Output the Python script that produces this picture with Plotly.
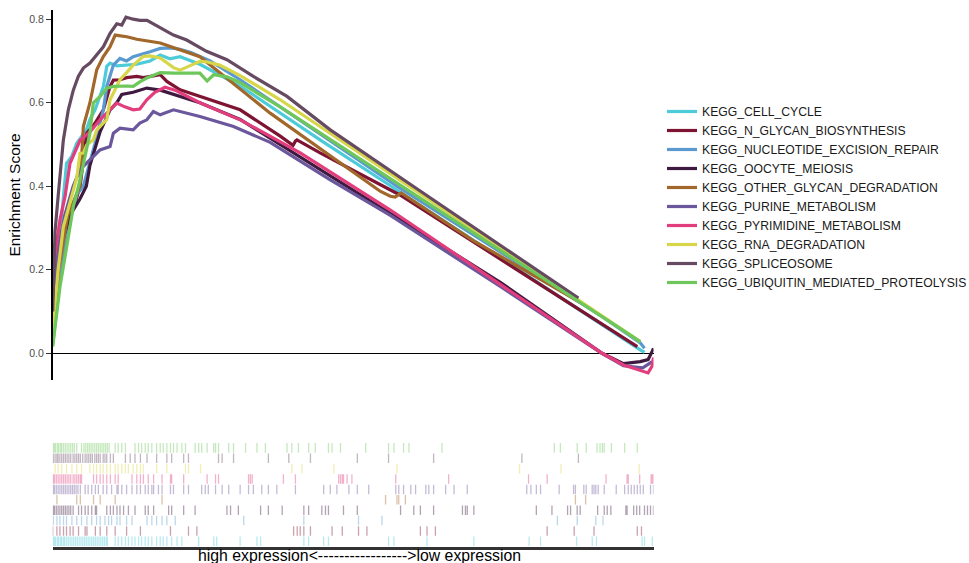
import plotly.graph_objects as go

# ---------------- data ----------------
set_names = ["KEGG_CELL_CYCLE", "KEGG_N_GLYCAN_BIOSYNTHESIS", "KEGG_NUCLEOTIDE_EXCISION_REPAIR",
             "KEGG_OOCYTE_MEIOSIS", "KEGG_OTHER_GLYCAN_DEGRADATION", "KEGG_PURINE_METABOLISM",
             "KEGG_PYRIMIDINE_METABOLISM", "KEGG_RNA_DEGRADATION", "KEGG_SPLICEOSOME",
             "KEGG_UBIQUITIN_MEDIATED_PROTEOLYSIS"]
set_colors = ["#4ECBD9", "#7D1432", "#5A9AD0", "#3F1A40", "#A2672B",
              "#6B579C", "#E23D7C", "#D7D64B", "#664A62", "#6DC75A"]

# running enrichment score curves: gene-rank position (0-1000) and ES
cell_cycle_rank = [0, 5, 15, 23, 31.6, 40, 56, 62, 70.5, 79, 84.3, 90, 95.5, 106.6, 123, 140, 162, 179, 195, 212, 245, 312, 445, 573, 978, 985]
cell_cycle_es = [0.05, 0.2, 0.33, 0.455, 0.471, 0.503, 0.535, 0.56, 0.583, 0.615, 0.639, 0.687, 0.695, 0.688, 0.69, 0.692, 0.70, 0.714, 0.705, 0.71, 0.692, 0.64, 0.511, 0.391, 0.008, 0.002]

n_glycan_rank = [0, 10, 20, 35, 45.5, 56.6, 70, 84.3, 95.5, 101, 112, 123, 140, 151, 179, 190, 212, 245, 312, 378.7, 400, 404, 406.5, 445, 578, 973]
n_glycan_es = [0.15, 0.25, 0.3, 0.35, 0.399, 0.527, 0.55, 0.583, 0.639, 0.654, 0.655, 0.66, 0.663, 0.66, 0.667, 0.651, 0.631, 0.615, 0.583, 0.52, 0.498, 0.508, 0.511, 0.48, 0.379, 0.016]

nucleotide_rank = [0, 10, 25, 40, 51, 59, 70, 84.3, 90, 101, 112, 123, 134, 162, 179, 195, 212, 230, 262, 312, 445, 573, 914, 978, 985]
nucleotide_es = [0.02, 0.15, 0.3, 0.38, 0.40, 0.44, 0.50, 0.583, 0.639, 0.69, 0.706, 0.70, 0.71, 0.722, 0.73, 0.731, 0.728, 0.72, 0.70, 0.655, 0.525, 0.40, 0.088, 0.025, 0.012]

oocyte_rank = [0, 12.2, 28.8, 45.5, 56, 62, 78.8, 95.5, 106.6, 115, 134, 156.6, 179, 212, 245, 312, 412, 562, 745, 914.5, 950, 978, 991, 998, 1000]
oocyte_es = [0.12, 0.25, 0.33, 0.37, 0.40, 0.45, 0.53, 0.583, 0.60, 0.62, 0.625, 0.635, 0.63, 0.615, 0.60, 0.56, 0.47, 0.335, 0.17, 0.0, -0.025, -0.02, -0.015, 0.005, 0.012]

other_glycan_rank = [0, 10, 25, 40, 45.5, 51, 62, 73.3, 84, 95.5, 104, 123.3, 140, 179, 245, 362, 445, 545, 562, 570, 580, 700, 883]
other_glycan_es = [0.05, 0.2, 0.33, 0.38, 0.40, 0.543, 0.60, 0.679, 0.71, 0.734, 0.762, 0.758, 0.752, 0.743, 0.71, 0.575, 0.491, 0.388, 0.376, 0.374, 0.384, 0.27, 0.118]

purine_rank = [0, 9, 20, 34, 45.5, 67.6, 78.8, 95.5, 101, 112, 134, 145, 156.6, 167.6, 179, 201, 223, 245, 301, 362, 462, 562, 745, 914, 950, 982, 998]
purine_es = [0.08, 0.25, 0.33, 0.40, 0.44, 0.471, 0.487, 0.495, 0.527, 0.539, 0.535, 0.551, 0.559, 0.579, 0.571, 0.583, 0.575, 0.567, 0.543, 0.505, 0.415, 0.33, 0.16, 0.0, -0.03, -0.035, -0.02]

pyrimidine_rank = [0, 3.8, 12.2, 20.5, 28.8, 45.5, 62, 78.8, 95.5, 106.6, 120, 134, 145, 156.6, 170, 187, 203.7, 245, 312, 362, 412, 562, 745, 914.5, 950, 978, 991, 998, 1000]
pyrimidine_es = [0.2, 0.24, 0.32, 0.375, 0.455, 0.51, 0.53, 0.559, 0.583, 0.599, 0.59, 0.583, 0.585, 0.607, 0.625, 0.637, 0.63, 0.60, 0.559, 0.519, 0.48, 0.343, 0.165, 0.0, -0.028, -0.04, -0.047, -0.03, -0.01]

rna_rank = [0, 9, 17.7, 28.8, 40, 45.5, 51, 56.6, 67.6, 73.3, 78.8, 84.3, 90, 95.5, 112, 123, 134, 151, 162, 179, 201, 212, 230, 245, 256, 278, 312, 378.7, 978]
rna_es = [0.05, 0.2, 0.303, 0.359, 0.42, 0.479, 0.479, 0.499, 0.511, 0.535, 0.543, 0.551, 0.56, 0.607, 0.655, 0.672, 0.69, 0.711, 0.712, 0.707, 0.684, 0.678, 0.69, 0.699, 0.698, 0.69, 0.665, 0.607, 0.028]

spliceosome_rank = [0, 3.8, 9.3, 17.7, 26, 34.3, 42.6, 51, 62, 73.3, 84.3, 95.5, 106.6, 115, 122, 134, 145, 157, 173, 201, 223, 256, 290, 334, 390, 462, 600, 760, 875]
spliceosome_es = [0.10, 0.29, 0.38, 0.51, 0.583, 0.63, 0.663, 0.683, 0.695, 0.714, 0.734, 0.766, 0.789, 0.786, 0.805, 0.80, 0.797, 0.797, 0.784, 0.762, 0.75, 0.723, 0.703, 0.663, 0.615, 0.535, 0.40, 0.244, 0.132]

ubiquitin_rank = [0, 12.2, 23.3, 34.3, 45.5, 51, 62, 67.6, 79, 90, 101, 123, 134, 145, 156.6, 179, 201, 245, 257, 268, 290, 312, 378.7, 978]
ubiquitin_es = [0.016, 0.16, 0.255, 0.351, 0.415, 0.455, 0.527, 0.6, 0.615, 0.635, 0.639, 0.64, 0.639, 0.65, 0.659, 0.672, 0.671, 0.671, 0.652, 0.667, 0.662, 0.648, 0.59, 0.028]

# gene-set member positions in the ranked list (rug)
cell_cycle_hits = [1, 3, 5, 8, 10, 13, 15, 18, 20, 23, 26, 29, 32, 35, 38, 41, 44, 47, 50, 53, 56, 59, 62, 65, 68, 71, 74, 77, 80, 83, 86, 89, 91,
                   104, 109, 115, 121, 126, 132, 137, 143, 148, 154, 159, 165, 173, 179, 184, 190, 198, 207, 215, 243, 268, 273, 312, 340, 346,
                   418, 426, 451, 459, 559, 568, 623, 701, 793, 812, 872, 898, 905, 981, 985, 998]
n_glycan_hits = [0, 7, 12, 18, 23, 29, 34, 43, 54, 57, 71, 79, 90, 104, 123, 146, 196, 226, 240, 401, 407, 412, 418, 429, 465, 482, 509,
                 523, 612, 623, 637, 823, 868, 901, 973, 980]
nucleotide_hits = [1, 7, 12, 18, 23, 32, 40, 48, 57, 65, 73, 79, 87, 93, 98, 107, 112, 123, 132, 157, 165, 173, 182, 190, 204, 318, 418,
                   509, 548, 840, 873, 904, 916]
oocyte_hits = [1, 3, 6, 9, 12, 15, 18, 21, 24, 27, 30, 34, 43, 48, 54, 59, 65, 71, 73, 90, 96, 101, 107, 112, 118, 126, 137, 154, 159, 168,
               193, 198, 218, 237, 290, 296, 309, 346, 359, 382, 418, 426, 448, 454, 459, 484, 507, 579, 601, 612, 634, 682, 687, 690, 701,
               805, 831, 857, 862, 873, 878, 907, 918, 923, 929, 954, 956, 967, 972, 977, 985, 990, 995, 1000]
other_glycan_hits = [7, 40, 46, 68, 79, 104, 182, 554, 573, 576, 587, 870, 887]
purine_hits = [1, 3, 6, 9, 12, 15, 18, 21, 24, 27, 30, 33, 36, 39, 42, 46, 54, 59, 65, 71, 76, 84, 90, 98, 107, 109, 115, 123, 132, 140, 146,
               154, 159, 165, 168, 176, 182, 196, 201, 218, 226, 248, 254, 259, 271, 282, 293, 312, 326, 334, 348, 359, 373, 404, 451, 462,
               473, 493, 507, 526, 571, 576, 584, 596, 604, 621, 626, 634, 654, 668, 690, 789, 796, 805, 812, 843, 867, 870, 884, 888, 898,
               901, 904, 908, 918, 938, 952, 958, 963, 968, 973, 978, 983, 995, 1000]
pyrimidine_hits = [1, 3, 6, 9, 12, 15, 18, 21, 24, 27, 30, 34, 37, 40, 43, 46, 48, 68, 73, 79, 84, 90, 96, 104, 109, 132, 140, 146, 151,
                   159, 168, 182, 196, 198, 218, 257, 271, 276, 326, 329, 332, 384, 404, 476, 479, 482, 484, 490, 498, 571, 659, 792, 823,
                   921, 956, 958, 977, 996, 998, 1000]
rna_hits = [4, 9, 15, 23, 32, 40, 48, 62, 68, 73, 79, 84, 90, 96, 104, 109, 115, 121, 126, 134, 140, 146, 151, 173, 190, 221, 226, 246, 398,
            415, 468, 573, 777, 846, 976]
spliceosome_hits = [1, 4, 7, 9, 12, 15, 18, 21, 24, 27, 30, 34, 37, 40, 43, 46, 50, 54, 57, 60, 63, 66, 70, 73, 76, 79, 84, 87, 90, 96, 101,
                    121, 129, 137, 146, 157, 173, 190, 198, 218, 226, 276, 282, 301, 359, 393, 429, 507, 559, 634, 781, 875]
ubiquitin_hits = [1, 3, 5, 8, 10, 13, 15, 18, 21, 24, 27, 30, 33, 36, 40, 48, 52, 55, 58, 61, 64, 67, 70, 73, 76, 79, 82, 85, 88, 91, 94,
                  104, 109, 115, 121, 137, 143, 148, 154, 159, 165, 173, 179, 184, 190, 196, 201, 207, 215, 221, 237, 243, 248, 257, 268,
                  271, 276, 293, 301, 321, 340, 354, 390, 398, 409, 426, 437, 459, 465, 479, 521, 559, 568, 584, 593, 648, 835, 845, 873,
                  888, 906, 911, 915, 918, 930, 952, 973]

y_ticks = [0.0, 0.2, 0.4, 0.6, 0.8]
x_label = "high expression&lt;-----------------&gt;low expression"

curves = [
    (cell_cycle_rank, cell_cycle_es, cell_cycle_hits),
    (n_glycan_rank, n_glycan_es, n_glycan_hits),
    (nucleotide_rank, nucleotide_es, nucleotide_hits),
    (oocyte_rank, oocyte_es, oocyte_hits),
    (other_glycan_rank, other_glycan_es, other_glycan_hits),
    (purine_rank, purine_es, purine_hits),
    (pyrimidine_rank, pyrimidine_es, pyrimidine_hits),
    (rna_rank, rna_es, rna_hits),
    (spliceosome_rank, spliceosome_es, spliceosome_hits),
    (ubiquitin_rank, ubiquitin_es, ubiquitin_hits),
]


def hex_rgba(h, a):
    h = h.lstrip("#")
    return "rgba(%d,%d,%d,%.2f)" % (int(h[0:2], 16), int(h[2:4], 16), int(h[4:6], 16), a)


fig = go.Figure()

for i, (name, col, (rk, es, hits)) in enumerate(zip(set_names, set_colors, curves)):
    fig.add_trace(go.Scatter(x=rk, y=es, mode="lines", name=name,
                             line=dict(color=col, width=3.2), xaxis="x", yaxis="y",
                             legendrank=i + 1))

for i, (name, col, (rk, es, hits)) in enumerate(zip(set_names, set_colors, curves)):
    xs, ys = [], []
    for h in hits:
        xs += [h, h, None]
        ys += [i + 0.04, i + 0.96, None]
    fig.add_trace(go.Scatter(x=xs, y=ys, mode="lines", showlegend=False, hoverinfo="skip",
                             line=dict(color=hex_rgba(col, 0.40), width=1.3),
                             xaxis="x2", yaxis="y2"))

W, H = 969, 563
xdom = [52.7 / W, 653.5 / W]

fig.update_layout(
    width=W, height=H,
    margin=dict(l=0, r=0, t=0, b=0, autoexpand=False),
    paper_bgcolor="white", plot_bgcolor="white",
    font=dict(family="Arial, Liberation Sans, sans-serif", color="black"),
    xaxis=dict(domain=xdom, range=[0, 1000], visible=False, anchor="y"),
    yaxis=dict(domain=[1 - 380 / H, 1 - 10 / H], range=[-0.064, 0.822], anchor="x",
               automargin=False,
               showline=True, linecolor="black", linewidth=1.6,
               ticks="outside", ticklen=5, tickcolor="#333333", tickwidth=1,
               tickvals=y_ticks, ticktext=["%.1f" % v for v in y_ticks],
               tickfont=dict(size=10.5, color="#4d4d4d"),
               showgrid=False, zeroline=True, zerolinecolor="black", zerolinewidth=1.2,
               title=dict(text="Enrichment Score", font=dict(size=15.5, color="black"), standoff=5)),
    xaxis2=dict(domain=xdom, range=[0, 1000], anchor="y2", showline=True, linecolor="#333333",
                linewidth=2.5, showticklabels=False, ticks="", showgrid=False, zeroline=False,
                automargin=False),
    yaxis2=dict(domain=[1 - 546.5 / H, 1 - 442.7 / H], range=[0, 10], anchor="x2", visible=False),
    legend=dict(x=662 / W, y=1 - 97 / H, xanchor="left", yanchor="top",
                font=dict(size=12.2, color="#1a1a1a"), bgcolor="rgba(0,0,0,0)",
                tracegroupgap=0),
    annotations=[dict(text=x_label, x=359 / W, y=1 - 555.5 / H, xref="paper", yref="paper",
                      xanchor="center", yanchor="middle", showarrow=False,
                      font=dict(size=15.8, color="black"))],
)

fig.write_html("out.html", config={"displayModeBar": False},
               post_script="document.body.style.margin='0px';document.body.style.overflow='hidden';")
